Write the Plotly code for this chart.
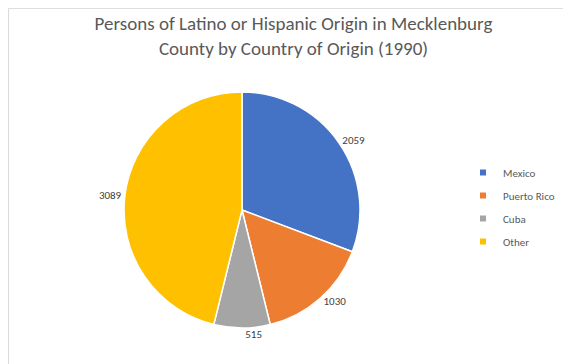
import plotly.graph_objects as go

categories = ["Mexico", "Puerto Rico", "Cuba", "Other"]
values = [2059, 1030, 515, 3089]
colors = ["#4472C4", "#ED7D31", "#A5A5A5", "#FFC000"]
title_lines = ["Persons of Latino or Hispanic Origin in Mecklenburg", "County by Country of Origin (1990)"]

FONT = "Calibri, Carlito, Lato, sans-serif"
W, H = 571, 364

fig = go.Figure()
fig.add_trace(go.Pie(
    labels=categories, values=values, sort=False, direction="clockwise", rotation=0,
    marker=dict(colors=colors, line=dict(color="white", width=1.5)),
    textinfo="value", textposition="outside",
    textfont=dict(family=FONT, size=11, color="#404040"),
    showlegend=False, hoverinfo="label+value+percent",
    domain=dict(x=[116 / W, 352 / W], y=[(H - 320) / H, (H - 84) / H]),
))
for i, (c, col) in enumerate(zip(categories, colors)):
    fig.add_trace(go.Scatter(
        x=[None], y=[None], mode="markers", name=c, legendgroup=c,
        marker=dict(symbol="square", size=6, color=col),
    ))

fig.update_layout(
    width=W, height=H,
    margin=dict(l=0, r=0, t=0, b=0),
    paper_bgcolor="white", plot_bgcolor="white",
    title=dict(text="<br>".join(title_lines), x=0.5, xanchor="center", y=0.94, yanchor="top",
               font=dict(family=FONT, size=19, color="#595959")),
    xaxis=dict(visible=False), yaxis=dict(visible=False),
    legend=dict(x=455 / W, y=(H - 199) / H, xanchor="left", yanchor="middle",
                font=dict(family=FONT, size=11, color="#595959"),
                tracegroupgap=4, bgcolor="rgba(0,0,0,0)"),
    shapes=[dict(type="rect", xref="paper", yref="paper", x0=0.001, y0=0.001, x1=0.999, y1=0.999,
                 line=dict(color="#D9D9D9", width=1), fillcolor="rgba(0,0,0,0)")],
)

fig.write_html("out.html")
